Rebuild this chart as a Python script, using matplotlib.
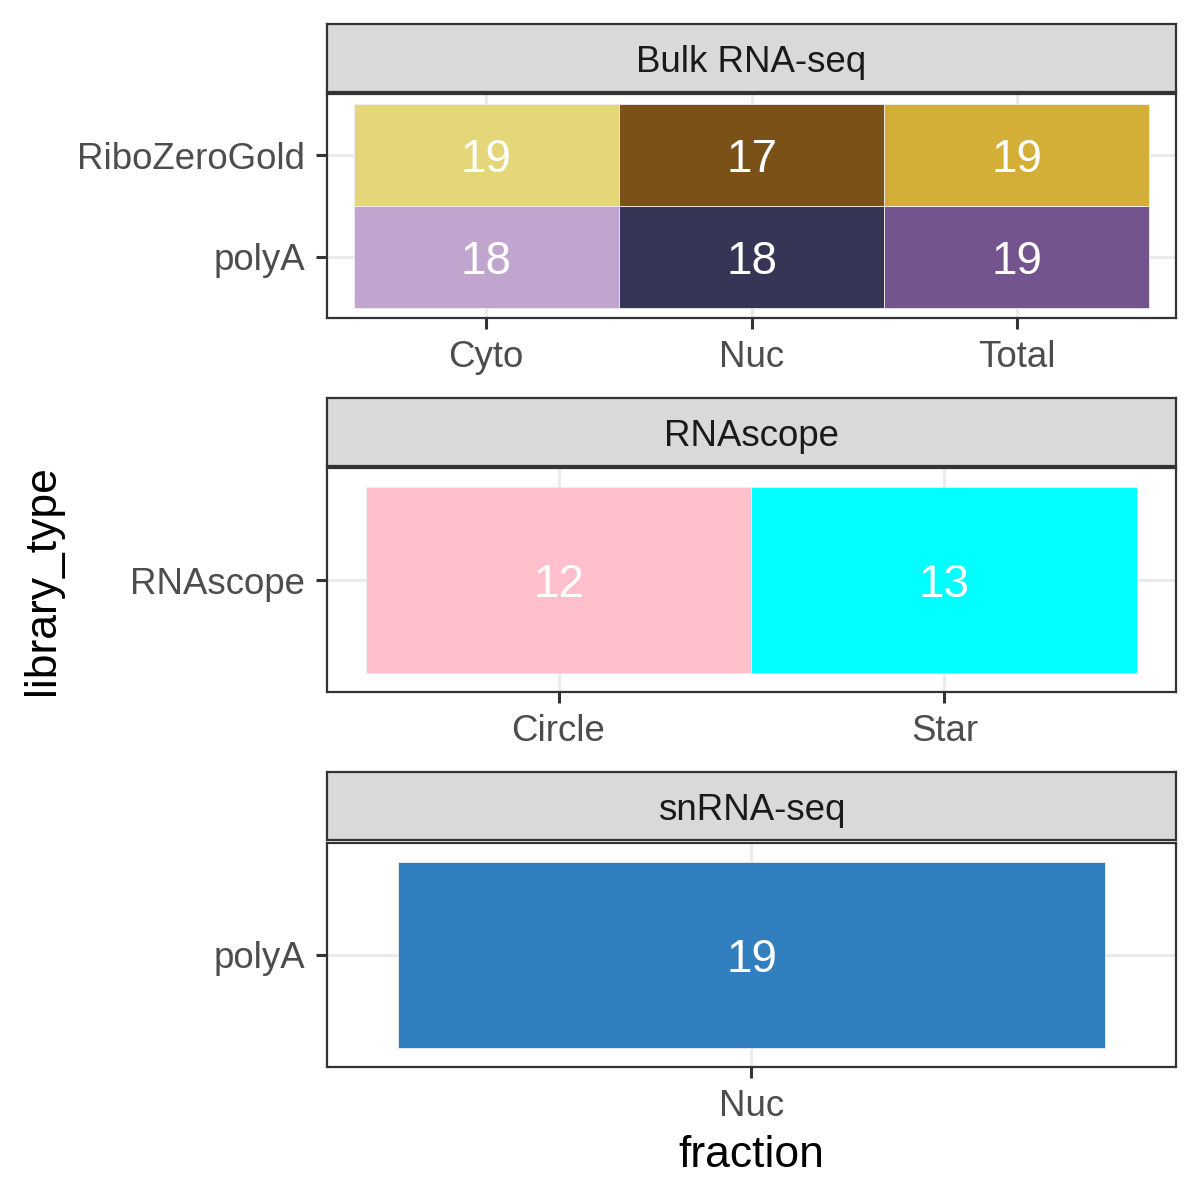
import numpy as np
import matplotlib.pyplot as plt

plt.rcParams['font.family'] = ['Liberation Sans', 'DejaVu Sans']

# facet: Bulk RNA-seq
bulk_fractions = ["Cyto", "Nuc", "Total"]
bulk_types = ["polyA", "RiboZeroGold"]
bulk_counts = [[18, 18, 19],
               [19, 17, 19]]
bulk_colors = [["#C0A6CE", "#363555", "#73548F"],
               ["#E3D77A", "#7A5218", "#D4AF37"]]

# facet: RNAscope
scope_fractions = ["Circle", "Star"]
scope_types = ["RNAscope"]
scope_counts = [[12, 13]]
scope_colors = [["#FFC0CB", "#00FFFF"]]

# facet: snRNA-seq
sn_fractions = ["Nuc"]
sn_types = ["polyA"]
sn_counts = [[19]]
sn_colors = [["#317FBF"]]

facets = [
    ("Bulk RNA-seq", bulk_fractions, bulk_types, bulk_counts, bulk_colors),
    ("RNAscope", scope_fractions, scope_types, scope_counts, scope_colors),
    ("snRNA-seq", sn_fractions, sn_types, sn_counts, sn_colors),
]

W = H = 1200
fig = plt.figure(figsize=(6, 6), dpi=200)

def px_axes(x0, y0, x1, y1):
    return fig.add_axes([x0 / W, 1 - y1 / H, (x1 - x0) / W, (y1 - y0) / H])

panel_tops = [94, 468, 843]
strip_tops = [24, 398, 772]
left, right = 327, 1176
ph, sh = 224, 68

for i, (title, fracs, types, counts, colors) in enumerate(facets):
    # strip
    sax = px_axes(left, strip_tops[i], right, strip_tops[i] + sh)
    sax.set_facecolor("#D9D9D9")
    sax.set_xticks([]); sax.set_yticks([])
    for s in sax.spines.values():
        s.set_color("#333333"); s.set_linewidth(0.8)
    sax.text(0.5, 0.5, title, transform=sax.transAxes, ha="center",
             va="center_baseline", fontsize=13.2, color="#1A1A1A")

    ax = px_axes(left, panel_tops[i], right, panel_tops[i] + ph)
    nx, ny = len(fracs), len(types)
    for r in range(ny):
        for c in range(nx):
            ax.add_patch(plt.Rectangle((c + 0.5, r + 0.5), 1, 1,
                                       facecolor=colors[r][c], edgecolor="#EEEEEE",
                                       linewidth=0.3, zorder=2))
            ax.text(c + 1, r + 1, str(counts[r][c]), ha="center",
                    va="center_baseline", color="white", fontsize=16.5, zorder=3)
    ax.set_xlim(0.4, nx + 0.6)
    ax.set_ylim(0.4, ny + 0.6)
    ax.set_xticks(np.arange(1, nx + 1))
    ax.set_xticklabels(fracs)
    ax.set_yticks(np.arange(1, ny + 1))
    ax.set_yticklabels(types)
    ax.grid(True, color="#EBEBEB", linewidth=1.1, zorder=0)
    ax.set_axisbelow(True)
    ax.tick_params(length=4, width=1.1, color="#333333", labelcolor="#4D4D4D",
                   labelsize=13.2, pad=4)
    for s in ax.spines.values():
        s.set_color("#333333"); s.set_linewidth(0.8)
    if i == 2:
        ax.set_xlabel("fraction", fontsize=16, labelpad=4)

fig.text(42 / W, 1 - 580 / H, "library_type", rotation=90, ha="center", va="center",
         fontsize=16)

fig.savefig("out.png", dpi=200)
